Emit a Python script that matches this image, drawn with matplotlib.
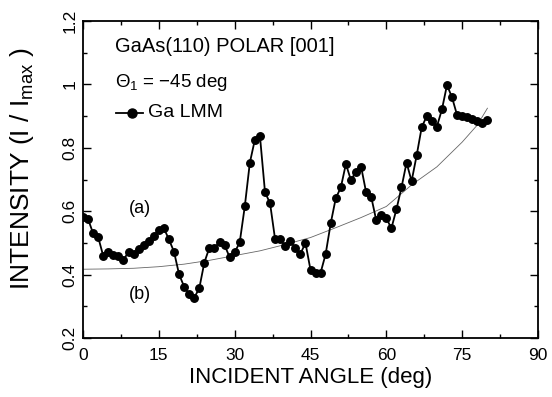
import numpy as np
import matplotlib
matplotlib.use("Agg")
import matplotlib.pyplot as plt
from matplotlib.ticker import MultipleLocator

plt.rcParams["font.family"] = ["Liberation Sans", "DejaVu Sans"]
plt.rcParams["mathtext.fontset"] = "custom"
plt.rcParams["mathtext.rm"] = "Liberation Sans"
plt.rcParams["mathtext.it"] = "Liberation Sans"

# ---- (a) measured Ga LMM intensity, one point per degree ----
angle = np.arange(0, 81)
intensity = [
    0.583, 0.575, 0.530, 0.518, 0.459, 0.471, 0.462, 0.459, 0.446, 0.472,
    0.465, 0.480, 0.492, 0.507, 0.522, 0.541, 0.546, 0.511, 0.472, 0.401,
    0.362, 0.338, 0.327, 0.357, 0.438, 0.485, 0.485, 0.502, 0.493, 0.455,
    0.470, 0.502, 0.615, 0.753, 0.826, 0.837, 0.660, 0.625, 0.511, 0.511,
    0.490, 0.507, 0.483, 0.465, 0.500, 0.415, 0.406, 0.406, 0.465, 0.562,
    0.641, 0.675, 0.749, 0.698, 0.725, 0.741, 0.660, 0.646, 0.572, 0.588,
    0.578, 0.546, 0.606, 0.675, 0.753, 0.695, 0.776, 0.865, 0.900, 0.886,
    0.867, 0.921, 0.998, 0.959, 0.903, 0.900, 0.898, 0.890, 0.886, 0.877,
    0.888,
]

# ---- (b) smooth reference curve ----
curve_angle = [0, 5, 10, 15, 20, 25, 30, 35, 40, 45, 50, 55, 60, 65, 70, 75, 78, 80]
curve_int = [0.417, 0.418, 0.420, 0.425, 0.433, 0.445, 0.460, 0.475, 0.495,
             0.517, 0.548, 0.580, 0.615, 0.683, 0.740, 0.818, 0.872, 0.925]

fig = plt.figure(figsize=(5.52, 3.97), dpi=100)
ax = fig.add_axes([0.1504, 0.1486, 0.8242, 0.7984])

ax.plot(curve_angle, curve_int, color="#666666", lw=0.6)
ax.plot(angle, intensity, color="black", lw=1.3, marker="o", ms=5.4,
        mfc="black", mec="black")

ax.set_xlim(0, 90)
ax.set_ylim(0.2, 1.2)
ax.xaxis.set_major_locator(MultipleLocator(15))
ax.xaxis.set_minor_locator(MultipleLocator(7.5))
ax.yaxis.set_minor_locator(MultipleLocator(0.1))
ax.set_yticks([0.2, 0.4, 0.6, 0.8, 1.0, 1.2])
ax.set_yticklabels(["0.2", "0.4", "0.6", "0.8", "1", "1.2"], rotation=90,
                   va="center")
ax.tick_params(which="both", direction="in", top=True, right=True,
               labelsize=12.5, width=1.0)
ax.tick_params(which="major", length=6)
ax.tick_params(which="minor", length=3)
ax.tick_params(axis="x", pad=7)
ax.tick_params(axis="y", pad=4)
for s in ax.spines.values():
    s.set_linewidth(1.3)

ax.set_xlabel("INCIDENT ANGLE (deg)", fontsize=16, va="center")
ax.xaxis.set_label_coords(0.5, -0.125)
ax.set_ylabel("INTENSITY (I / I$_{\\rm max}$ )", fontsize=19, va="center")
ax.yaxis.set_label_coords(-0.135, 0.535)

ax.text(6.3, 1.12, "GaAs(110) POLAR [001]", fontsize=14.5, va="center")
ax.text(6.3, 1.005, "$\\Theta_1$ = \u221245 deg", fontsize=13.5, va="center")
ax.plot([6.5, 11.8], [0.91, 0.91], color="black", lw=1.3)
ax.plot([9.6], [0.91], "o", color="black", ms=6.5)
ax.text(12.9, 0.91, "Ga LMM", fontsize=14, va="center")

ax.text(11.3, 0.61, "(a)", fontsize=13, ha="center", va="center")
ax.text(11.3, 0.336, "(b)", fontsize=13, ha="center", va="center")

fig.savefig("out.png", dpi=100, facecolor="white")
